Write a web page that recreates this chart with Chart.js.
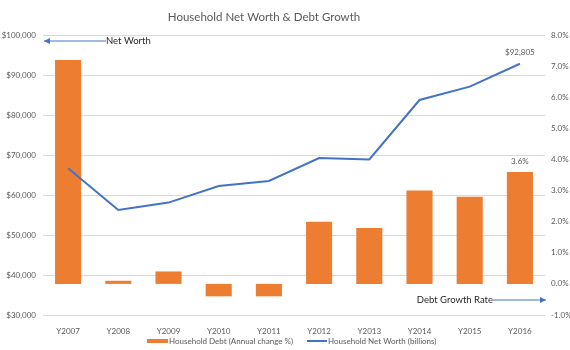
<!DOCTYPE html>
<html>
<head>
<meta charset="utf-8">
<script src="https://cdn.jsdelivr.net/npm/chart.js@4.4.1/dist/chart.umd.min.js"></script>
<style>
  body { margin: 0; background: #fff; }
  #wrap { width: 570px; height: 350px; }
</style>
</head>
<body>
<div id="wrap"><canvas id="nw-debt" width="570" height="350"></canvas></div>
<script>
const years = ['Y2007', 'Y2008', 'Y2009', 'Y2010', 'Y2011', 'Y2012', 'Y2013', 'Y2014', 'Y2015', 'Y2016'];
// household debt, annual change in %
const debtChange = [7.2, 0.1, 0.4, -0.4, -0.4, 2.0, 1.8, 3.0, 2.8, 3.6];
// household net worth, billions of dollars
const netWorth = [66700, 56250, 58100, 62250, 63500, 69250, 68900, 83750, 87100, 92805];

const FONT = 'Lato, "Liberation Sans", sans-serif';
const GREY = '#595959';
const DARK = '#262626';
const ORANGE = '#ED7D31';
const BLUE = '#4472C4';

const fmtDollar = v => '$' + Math.round(v).toLocaleString('en-US');
const fmtPct = v => v.toFixed(1) + '%';

function arrow(ctx, x1, x2, y) {
  // straight line from x1 to x2 with a head at x2
  ctx.save();
  ctx.strokeStyle = BLUE;
  ctx.fillStyle = BLUE;
  ctx.lineWidth = 1;
  ctx.beginPath();
  ctx.moveTo(x1, y);
  ctx.lineTo(x2, y);
  ctx.stroke();
  const d = x2 > x1 ? 1 : -1;
  ctx.beginPath();
  ctx.moveTo(x2, y);
  ctx.lineTo(x2 - d * 6, y - 3);
  ctx.lineTo(x2 - d * 6, y + 3);
  ctx.closePath();
  ctx.fill();
  ctx.restore();
}

const extras = {
  id: 'extras',
  afterDraw(chart) {
    const ctx = chart.ctx;
    const area = chart.chartArea;
    ctx.save();

    // title
    ctx.fillStyle = GREY;
    ctx.font = '11.5px ' + FONT;
    ctx.textAlign = 'center';
    ctx.textBaseline = 'middle';
    ctx.fillText('Household Net Worth & Debt Growth', 264, 17);

    // value labels on the last points
    ctx.font = '8px ' + FONT;
    const lineMeta = chart.getDatasetMeta(1);
    const lastPt = lineMeta.data[lineMeta.data.length - 1];
    ctx.fillText(fmtDollar(netWorth[netWorth.length - 1]), lastPt.x, lastPt.y - 11);
    const barMeta = chart.getDatasetMeta(0);
    const lastBar = barMeta.data[barMeta.data.length - 1];
    ctx.fillText(fmtPct(debtChange[debtChange.length - 1]), lastBar.x, lastBar.y - 10);

    // axis callouts
    ctx.fillStyle = DARK;
    ctx.font = '9.5px ' + FONT;
    ctx.textAlign = 'left';
    ctx.fillText('Net Worth', 106, 41);
    arrow(ctx, 106, area.left + 1, 41);
    ctx.fillStyle = DARK;
    ctx.textAlign = 'right';
    ctx.fillText('Debt Growth Rate', 493, 300);
    arrow(ctx, 493, area.right + 1, 300);

    // legend
    ctx.font = '8px ' + FONT;
    ctx.textAlign = 'left';
    ctx.fillStyle = ORANGE;
    ctx.fillRect(147, 339, 21, 4);
    ctx.fillStyle = GREY;
    ctx.fillText('Household Debt (Annual change %)', 169, 341);
    ctx.strokeStyle = BLUE;
    ctx.lineWidth = 2;
    ctx.beginPath();
    ctx.moveTo(307, 341);
    ctx.lineTo(327, 341);
    ctx.stroke();
    ctx.fillText('Household Net Worth (billions)', 328, 341);

    ctx.restore();
  }
};

new Chart(document.getElementById('nw-debt'), {
  data: {
    labels: years,
    datasets: [{
      type: 'bar',
      label: 'Household Debt (Annual change %)',
      data: debtChange,
      backgroundColor: ORANGE,
      yAxisID: 'pct',
      barPercentage: 0.52,
      categoryPercentage: 1,
      order: 2
    }, {
      type: 'line',
      label: 'Household Net Worth (billions)',
      data: netWorth,
      borderColor: BLUE,
      backgroundColor: BLUE,
      borderWidth: 2,
      pointRadius: 0,
      tension: 0,
      yAxisID: 'usd',
      order: 1
    }]
  },
  options: {
    responsive: false,
    animation: false,
    layout: { padding: { top: 35, right: 0, left: 0, bottom: 0 } },
    plugins: {
      legend: { display: false },
      title: { display: false },
      tooltip: { enabled: false }
    },
    scales: {
      x: {
        grid: { display: false },
        border: { display: false },
        ticks: { color: GREY, font: { family: FONT, size: 8 }, padding: 4, maxRotation: 0 },
        afterFit: s => { s.height = 35; }
      },
      usd: {
        position: 'left',
        min: 30000,
        max: 100000,
        grid: { color: '#D9D9D9', drawTicks: false },
        border: { display: false },
        ticks: {
          stepSize: 10000,
          color: GREY,
          font: { family: FONT, size: 8 },
          padding: 7,
          callback: v => fmtDollar(v)
        },
        afterFit: s => { s.width = 43; }
      },
      pct: {
        position: 'right',
        min: -1,
        max: 8,
        grid: { display: false, drawTicks: false },
        border: { display: false },
        ticks: {
          stepSize: 1,
          color: GREY,
          font: { family: FONT, size: 8 },
          padding: 6,
          callback: v => fmtPct(v)
        },
        afterFit: s => { s.width = 25; }
      }
    }
  },
  plugins: [extras]
});
</script>
</body>
</html>
